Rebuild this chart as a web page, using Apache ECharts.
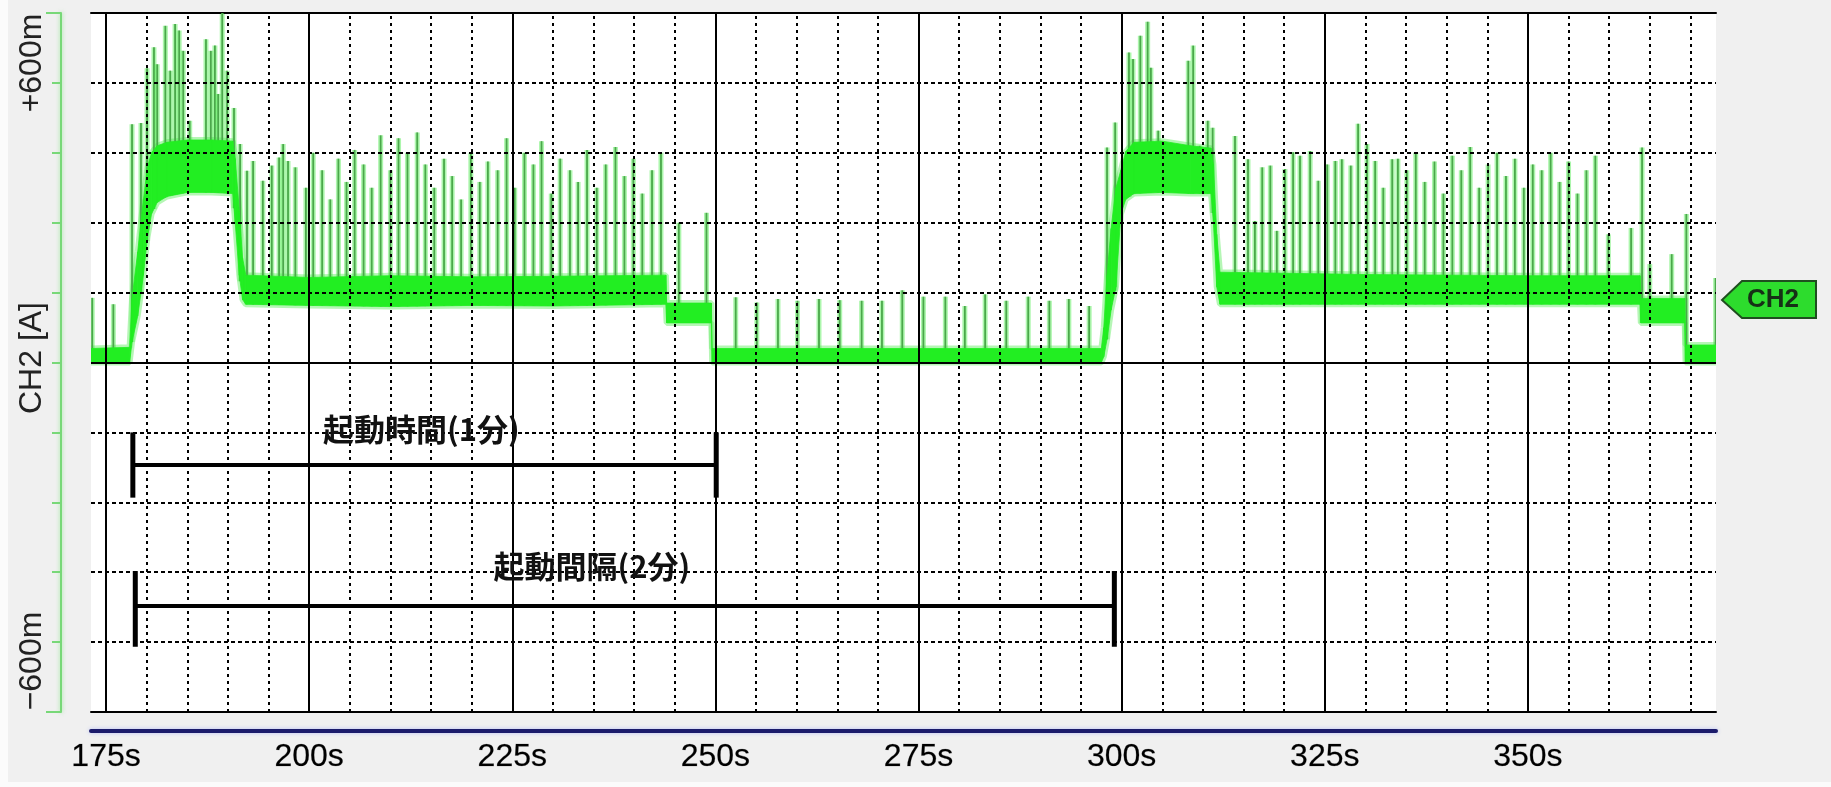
<!DOCTYPE html>
<html><head><meta charset="utf-8">
<script src="https://cdn.jsdelivr.net/npm/echarts@6/dist/echarts.min.js"></script>
<style>html,body{margin:0;padding:0;background:#f0f0f0}#c{width:1831px;height:787px}</style>
</head><body><div id="c"></div>
<script>
// ---- axis / grid values ----
const xLabelValues = [175, 200, 225, 250, 275, 300, 325, 350];
const majorGridTimes = [175, 200, 225, 250, 275, 300, 325, 350];
const minorGridTimes = [180, 185, 190, 195, 205, 210, 215, 220, 230, 235, 240, 245, 255, 260, 265, 270,
  280, 285, 290, 295, 305, 310, 315, 320, 330, 335, 340, 345, 355, 360, 365, 370];
const yEndTicks = [-600, 600];

// ---- dense trace envelope (mA) ----
const bandTimes = [173.15, 177.9, 178.2, 178.9, 179.6, 180.1, 180.6, 181.3, 182.5, 185.0, 188.0, 190.6, 190.9, 191.4, 191.8, 192.2,
  200, 210, 220, 230, 243.9, 244.0, 249.5, 249.6, 297.5, 297.8, 298.2, 298.7, 299.3, 299.9, 300.5, 301.5, 305, 308.5, 311.0,
  311.3, 311.7, 312.1, 330, 350, 363.8, 363.9, 369.3, 369.4, 373.15];
const bandLow = [0, 0, 35, 80, 150, 215, 255, 275, 285, 292, 292, 290, 240, 150, 108, 100,
  98, 96, 98, 97, 100, 68, 68, 0, 0, 10, 40, 90, 130, 255, 280, 290, 292, 290, 290,
  240, 130, 100, 100, 100, 100, 68, 68, 0, 0];
const bandHigh = [24, 26, 110, 190, 280, 335, 360, 372, 378, 382, 382, 380, 350, 260, 180, 150,
  146, 149, 147, 148, 150, 102, 102, 24, 24, 60, 150, 230, 300, 330, 362, 378, 380, 372, 368,
  340, 220, 155, 151, 149, 149, 110, 110, 30, 30];

// ---- spikes (time s, peak mA) ----
const spikeTimes = [173.3, 175.9, 178.2, 179.3, 180.05, 180.9, 181.3, 182.3, 182.9, 183.5, 184.0, 184.5, 185.3, 187.3, 187.9, 188.4, 188.8, 189.3, 189.9, 190.75,
  191.5, 192.35, 193.1, 194.3, 195.4, 196.3, 196.8, 197.4, 198.3, 199.6, 200.5, 201.6, 202.6, 203.6, 204.6, 205.6, 206.7, 207.7, 208.8, 210.0, 211.0, 212.1,
  213.3, 214.3, 215.4, 216.6, 217.6, 218.7, 219.9, 221.0, 222.0, 223.2, 224.3, 225.3, 226.5, 227.6, 228.6, 229.8, 230.9, 232.1, 233.1, 234.2, 235.4, 236.5,
  237.7, 238.8, 239.9, 241.0, 242.2, 243.3, 245.5, 248.9,
  252.5, 255.1, 257.7, 260.1, 262.75, 265.3, 268.0, 270.5, 273.0, 275.6, 278.3, 280.7, 283.2, 285.8, 288.5, 291.1, 293.5, 296.0,
  298.2, 299.2, 300.9, 301.4, 302.3, 303.2, 303.6, 304.5, 308.2, 308.8, 309.6, 310.6, 311.2,
  313.95, 315.55, 316.4, 317.3, 318.3, 319.1, 320.1, 321.1, 321.95, 323.2, 324.2, 325.3, 326.3, 327.1, 328.2, 329.1, 330.2, 331.2, 332.2, 333.3, 334.0,
  335.1, 336.2, 337.3, 338.5, 339.6, 340.7, 341.8, 342.9, 344.0, 345.1, 346.2, 347.3, 348.4, 349.5, 350.6, 351.7, 352.8, 353.9, 355.0, 356.1, 357.2, 358.3, 359.9,
  362.7, 364.05, 365.0, 367.7, 369.5, 373.1];
const spikeValues = [111, 100, 409, 411, 505, 541, 512, 578, 501, 581, 570, 535, 415, 555, 535, 544, 461, 610, 501, 437,
  375, 329, 346, 312, 338, 352, 375, 346, 335, 300, 360, 330, 280, 350, 310, 365, 340, 300, 390, 330, 385, 360,
  395, 340, 300, 350, 320, 280, 360, 310, 345, 330, 385, 300, 360, 340, 380, 290, 350, 330, 310, 365, 300, 340,
  370, 320, 350, 290, 330, 360, 240, 257,
  112, 103, 109, 106, 109, 107, 106, 106, 124, 113, 113, 97, 117, 106, 113, 106, 109, 97,
  369, 412, 532, 521, 561, 585, 506, 398, 518, 544, 372, 415, 403,
  389, 349, 243, 335, 338, 226, 332, 361, 355, 363, 312, 340, 346, 349, 338, 410, 375, 346, 300, 349, 350,
  330, 360, 310, 345, 290, 355, 330, 370, 300, 340, 360, 320, 350, 300, 340, 330, 360, 310, 345, 290, 330, 355, 220,
  231, 369, 169, 186, 255, 145];

// ---- annotation bars ----
const annoStart = [178.3, 178.6];
const annoEnd = [250.1, 299.1];
const annoLevel = [-176, -418];
const annoTickTop = [-120, -358];
const annoTickBottom = [-232, -488];
const annoText = ['起動時間(1分)', '起動間隔(2分)'];
const annoTextAnchor = [[213.8, -114], [234.8, -349]];

function interp(t, ys) {
  if (t <= bandTimes[0]) return ys[0];
  for (let i = 1; i < bandTimes.length; i++) {
    if (t <= bandTimes[i]) {
      const f = (t - bandTimes[i - 1]) / (bandTimes[i] - bandTimes[i - 1]);
      return ys[i - 1] + f * (ys[i] - ys[i - 1]);
    }
  }
  return ys[ys.length - 1];
}

const chart = echarts.init(document.getElementById('c'), null, { renderer: 'canvas' });
const LATIN = 'Liberation Sans, Arial, sans-serif';
const GREEN = '#22ee22';

const vLines = majorGridTimes.map(t => ({ xAxis: t, lineStyle: { type: 'solid', width: 2, color: '#000' } }))
  .concat(minorGridTimes.map(t => ({ xAxis: t, lineStyle: { type: [3, 4], width: 2, color: '#000' } })));

const option = {
  backgroundColor: '#f0f0f0',
  animation: false,
  grid: { left: 91, right: 115, top: 13, bottom: 75, show: true, backgroundColor: '#ffffff', borderWidth: 0 },
  xAxis: [
    {
      type: 'value', min: 173.15, max: 373.15, position: 'bottom',
      axisLine: { show: true, onZero: false, lineStyle: { color: '#000', width: 2 } },
      axisTick: { show: false }, splitLine: { show: false },
      axisLabel: { customValues: xLabelValues, formatter: v => v + 's', fontSize: 32, color: '#000', fontFamily: LATIN, margin: 29,
        textBorderColor: 'rgba(0,0,0,0.35)', textBorderWidth: 0.6 }
    },
    {
      type: 'value', min: 173.15, max: 373.15, position: 'top',
      axisLine: { show: true, onZero: false, lineStyle: { color: '#000', width: 2 } },
      axisTick: { show: false }, splitLine: { show: false }, axisLabel: { show: false }
    },
    {
      type: 'value', min: 173.15, max: 373.15, position: 'bottom', offset: 19,
      axisLine: { show: true, onZero: false, lineStyle: { color: '#1b1b6b', width: 4, shadowBlur: 4, shadowColor: '#b8c0f4' } },
      axisTick: { show: false }, splitLine: { show: false }, axisLabel: { show: false }
    }
  ],
  yAxis: [
    {
      type: 'value', min: -600, max: 600, interval: 120, position: 'left', offset: 30, z: 10,
      axisLine: { show: true, lineStyle: { color: '#78d878', width: 2, shadowBlur: 4, shadowColor: 'rgba(110,225,110,0.7)' } },
      axisTick: { show: true, length: 9, lineStyle: { color: '#78d878', width: 2 } },
      axisLabel: { show: false },
      splitLine: { show: true, lineStyle: { type: [4, 3], width: 2, color: '#000' } }
    },
    {
      type: 'value', min: -600, max: 600, position: 'left', offset: 30,
      axisLine: { show: false },
      axisTick: { show: true, customValues: yEndTicks, length: 15, lineStyle: { color: '#78d878', width: 2 } },
      axisLabel: { show: false }, splitLine: { show: false }
    }
  ],
  series: [
    { // halo of band edges
      type: 'line', z: 1, symbol: 'none', silent: true,
      data: bandTimes.map((t, i) => [t, bandHigh[i]]),
      lineStyle: { color: 'rgba(120,238,120,0.55)', width: 6 }
    },
    {
      type: 'line', z: 1, symbol: 'none', silent: true,
      data: bandTimes.map((t, i) => [t, bandLow[i]]),
      lineStyle: { color: 'rgba(120,238,120,0.55)', width: 6 }
    },
    { // spikes
      type: 'custom', z: 2, clip: true, silent: true,
      data: spikeTimes.map((t, i) => [t, spikeValues[i]]),
      encode: { x: 0, y: 1 },
      renderItem: function (params, api) {
        const t = api.value(0), v = api.value(1);
        const base = interp(t, bandLow);
        const p0 = api.coord([t, base]), p1 = api.coord([t, v]);
        return {
          type: 'group', children: [
            { type: 'line', shape: { x1: p0[0], y1: p0[1], x2: p1[0], y2: p1[1] }, style: { stroke: 'rgba(70,235,70,0.45)', lineWidth: 5 } },
            { type: 'line', shape: { x1: p0[0], y1: p0[1], x2: p1[0], y2: p1[1] }, style: { stroke: '#4aa84a', lineWidth: 1.8 } }
          ]
        };
      }
    },
    { // dense band
      type: 'custom', z: 3, clip: true, silent: true,
      data: bandTimes.map((t, i) => [t, bandLow[i], bandHigh[i]]),
      encode: { x: 0, y: [1, 2] },
      renderItem: function (params, api) {
        const i = params.dataIndex;
        if (i >= bandTimes.length - 1) return null;
        const pts = [
          api.coord([bandTimes[i], bandHigh[i]]), api.coord([bandTimes[i + 1], bandHigh[i + 1]]),
          api.coord([bandTimes[i + 1], bandLow[i + 1]]), api.coord([bandTimes[i], bandLow[i]])
        ];
        return { type: 'polygon', shape: { points: pts }, style: { fill: GREEN, stroke: GREEN, lineWidth: 0.8 } };
      }
    },
    { // grid lines on top
      type: 'line', z: 10, data: [], silent: true,
      markLine: {
        silent: true, symbol: 'none', label: { show: false },
        data: vLines.concat([{ yAxis: 0, lineStyle: { type: 'solid', width: 2, color: '#000' } }])
      }
    },
    { // annotation bars
      type: 'custom', z: 12, silent: true,
      data: annoStart.map((s, i) => [s, annoEnd[i], annoLevel[i], annoTickTop[i], annoTickBottom[i]]),
      encode: { x: [0, 1], y: [2, 3, 4] },
      renderItem: function (params, api) {
        const i = params.dataIndex;
        const a = api.coord([annoStart[i], annoLevel[i]]), b = api.coord([annoEnd[i], annoLevel[i]]);
        const at = api.coord([annoStart[i], annoTickTop[i]]), ab = api.coord([annoStart[i], annoTickBottom[i]]);
        const bt = api.coord([annoEnd[i], annoTickTop[i]]), bb = api.coord([annoEnd[i], annoTickBottom[i]]);
        const lp = api.coord(annoTextAnchor[i]);
        return {
          type: 'group', children: [
            { type: 'line', shape: { x1: a[0], y1: a[1], x2: b[0], y2: b[1] }, style: { stroke: '#000', lineWidth: 4 } },
            { type: 'line', shape: { x1: at[0], y1: at[1], x2: ab[0], y2: ab[1] }, style: { stroke: '#000', lineWidth: 5 } },
            { type: 'line', shape: { x1: bt[0], y1: bt[1], x2: bb[0], y2: bb[1] }, style: { stroke: '#000', lineWidth: 5 } },
            { type: 'text', x: lp[0], y: lp[1], style: { text: annoText[i], fill: '#111', font: 'bold 31px "Noto Sans CJK JP", sans-serif', align: 'center', verticalAlign: 'middle' } }
          ]
        };
      }
    }
  ],
  graphic: [
    { type: 'rect', left: 0, top: 0, shape: { width: 8, height: 787 }, style: { fill: '#fbfbfb' }, silent: true },
    { type: 'rect', left: 0, top: 782, shape: { width: 1831, height: 5 }, style: { fill: '#fbfbfb' }, silent: true },
    { type: 'text', x: 32, y: 63, rotation: Math.PI / 2, style: { text: '+600m', font: '32px ' + LATIN, fill: '#222', align: 'center', verticalAlign: 'middle' } },
    { type: 'text', x: 32, y: 358, rotation: Math.PI / 2, style: { text: 'CH2 [A]', font: '32px ' + LATIN, fill: '#222', align: 'center', verticalAlign: 'middle' } },
    { type: 'text', x: 32, y: 661, rotation: Math.PI / 2, style: { text: '−600m', font: '32px ' + LATIN, fill: '#222', align: 'center', verticalAlign: 'middle' } },
    { type: 'polygon', shape: { points: [[1722, 300], [1742, 281], [1816, 281], [1816, 318], [1742, 318]] }, style: { fill: '#2ddc2d', stroke: '#1f4f1f', lineWidth: 2 } },
    { type: 'text', x: 1773, y: 300, style: { text: 'CH2', font: 'bold 26px ' + LATIN, fill: '#163016', align: 'center', verticalAlign: 'middle' } }
  ]
};
chart.setOption(option);
</script></body></html>
